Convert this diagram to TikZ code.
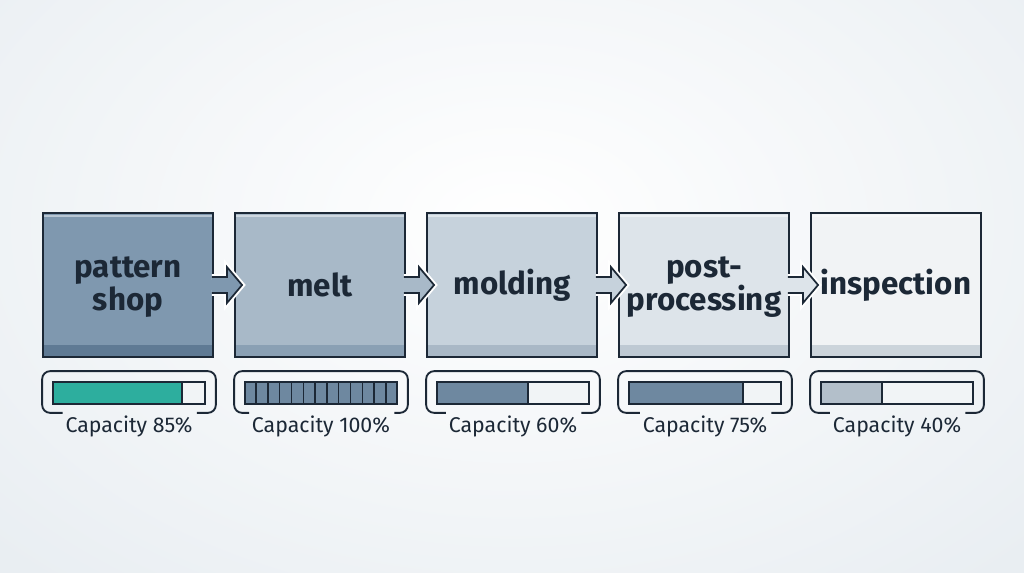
\documentclass[tikz,border=0pt]{standalone}
\usepackage{fontspec}
\setmainfont{Fira Sans}
\usetikzlibrary{calc}
\definecolor{ink}{HTML}{1C2836}
\definecolor{bgout}{HTML}{E9EEF2}
\definecolor{sA}{HTML}{7F98AF}\definecolor{dA}{HTML}{5F7A94}
\definecolor{sB}{HTML}{A8B9C8}\definecolor{dB}{HTML}{8AA0B4}
\definecolor{sC}{HTML}{C6D2DC}\definecolor{dC}{HTML}{A9B8C6}
\definecolor{sD}{HTML}{DDE4EA}\definecolor{dD}{HTML}{BEC9D3}
\definecolor{sE}{HTML}{F1F3F5}\definecolor{dE}{HTML}{CCD4DB}
\definecolor{teal}{HTML}{2DAE9E}
\definecolor{slate}{HTML}{6E88A0}
\definecolor{pale}{HTML}{B3BFCA}
\definecolor{barbg}{HTML}{F1F4F6}
\tikzset{
  stage/.style 2 args={draw=ink, line width=1.4pt, fill=#1, minimum width=127.5pt,
    minimum height=108pt, inner sep=0pt, align=center, text=ink,
    font=\fontsize{23.5}{24.5}\selectfont\bfseries,
    path picture={
      \fill[#2] (path picture bounding box.south west) rectangle ([yshift=9pt]path picture bounding box.south east);
      \fill[white,opacity=.45] ([yshift=-1.4pt]path picture bounding box.north west) rectangle ([yshift=-3.2pt]path picture bounding box.north east);}},
  meter/.style 2 args={draw=ink, line width=1.3pt, minimum width=114pt, minimum height=16.5pt,
    inner sep=0pt, fill=barbg,
    path picture={
      \fill[#1] (path picture bounding box.south west) rectangle ($(path picture bounding box.north west)!#2!(path picture bounding box.north east)$);
      \draw[ink, line width=1.3pt] ($(path picture bounding box.south west)!#2!(path picture bounding box.south east)$) -- ($(path picture bounding box.north west)!#2!(path picture bounding box.north east)$);}},
  caplabel/.style={text=ink, font=\fontsize{16}{18}\selectfont, inner sep=1pt, anchor=base},
  bracket/.style={draw=ink, line width=1.4pt, rounded corners=6pt},
  halo/.style={draw=white, line width=4.2pt, line join=miter},
  arrowline/.style={draw=ink, line width=1.3pt, line join=miter},
  arrowshape/.style 2 args={insert path={
    ($(#1.east)+(-2,-8)$) -- ($(#1.east)+(13,-8)$) -- ($(#1.east)+(13,-18)$) --
    ($(#2.west)+(8,0)$) -- ($(#1.east)+(13,18)$) -- ($(#1.east)+(13,8)$) -- ($(#1.east)+(-2,8)$)}}
}
\begin{document}
\begin{tikzpicture}[x=0.75pt,y=-0.75pt]
\useasboundingbox (0,0) rectangle (1024,572);
\shade[inner color=white, outer color=bgout] (-200,-250) rectangle (1224,700);

% stages
\node[stage={sA}{dA}] (b1) at (128,285) {};
\node[stage={sB}{dB}] (b2) at (320,285) {melt};
\node[stage={sC}{dC}] (b3) at (512,285) {molding};
\node[stage={sD}{dD}] (b4) at (704,285) {};
\node[stage={sE}{dE}] (b5) at (896,285) {inspection};
\node[align=center, text=ink, font=\fontsize{23.5}{24.5}\selectfont\bfseries, inner sep=0pt] (t1) at (128,287) {pattern\\shop};
\node[align=center, text=ink, font=\fontsize{23.5}{24.5}\selectfont\bfseries, inner sep=0pt] (t4) at (704,287) {post-\\processing};

% arrows
\foreach \i/\j/\c in {1/2/sA,2/3/sB,3/4/sC,4/5/sD}{
  \path[halo, arrowshape={b\i}{b\j}];
  \fill[\c, arrowshape={b\i}{b\j}];
  \path[arrowline, arrowshape={b\i}{b\j}];
}

% meters
\node[meter={teal}{0.85}] (m1) at (129,393) {};
\node[meter={slate}{1.0}] (m2) at (321,393) {};
\node[meter={slate}{0.6}] (m3) at (513,393) {};
\node[meter={slate}{0.75}] (m4) at (705,393) {};
\node[meter={pale}{0.4}] (m5) at (897,393) {};
\foreach \k in {1,...,12}
  \draw[ink, line width=1.1pt] ($(m2.south west)!\k/13!(m2.south east)$) -- ($(m2.north west)!\k/13!(m2.north east)$);

% labels
\node[caplabel] (l1) at (129,432) {Capacity 85\%};
\node[caplabel] (l2) at (321,432) {Capacity 100\%};
\node[caplabel] (l3) at (513,432) {Capacity 60\%};
\node[caplabel] (l4) at (705,432) {Capacity 75\%};
\node[caplabel] (l5) at (897,432) {Capacity 40\%};

% brackets
\foreach \i in {1,...,5}{
  \coordinate (bl\i) at ($(m\i.south west)+(-10,8)$);
  \coordinate (tr\i) at ($(m\i.north east)+(10,-10)$);
  \draw[bracket] let \p1=(l\i.west), \p2=(l\i.east), \p3=(bl\i), \p4=(tr\i) in
    (\x1-1pt,\y3) -- (\x3,\y3) -- (\x3,\y4) -- (\x4,\y4) -- (\x4,\y3) -- (\x2+2pt,\y3);
}
\end{tikzpicture}
\end{document}
